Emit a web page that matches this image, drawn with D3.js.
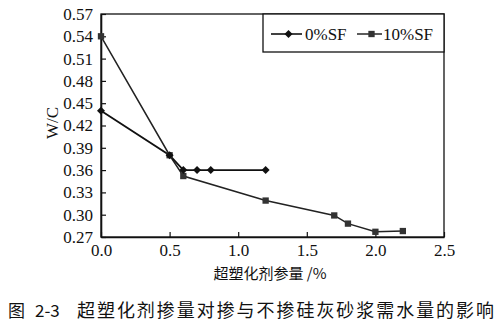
<!DOCTYPE html>
<html><head><meta charset="utf-8">
<script src="https://cdn.jsdelivr.net/npm/d3@7/dist/d3.min.js"></script>
<style>body{margin:0;background:#fff}svg{display:block}</style>
</head><body>
<script>
const xTicks = [0.0, 0.5, 1.0, 1.5, 2.0, 2.5];
const yTicks = [0.27, 0.30, 0.33, 0.36, 0.39, 0.42, 0.45, 0.48, 0.51, 0.54, 0.57];
const sf0X = [0, 0.5, 0.6, 0.7, 0.8, 1.2];
const sf0Y = [0.44, 0.38, 0.36, 0.36, 0.36, 0.36];
const sf10X = [0, 0.5, 0.6, 1.2, 1.7, 1.8, 2.0, 2.2];
const sf10Y = [0.54, 0.38, 0.352, 0.319, 0.299, 0.288, 0.277, 0.278];
const seriesNames = ["0%SF", "10%SF"];
const xTitle = "超塑化剂参量 /%";
const yTitle = "W/C";
const captionFig = "图";
const captionNum = "2-3";
const captionText = "超塑化剂掺量对掺与不掺硅灰砂浆需水量的影响";

const W = 500, H = 326;
const L = 101, R = 444, T = 14, B = 237;
const svg = d3.select("body").append("svg").attr("width", W).attr("height", H);
const x = d3.scaleLinear().domain([0, 2.5]).range([L, R]);
const y = d3.scaleLinear().domain([0.27, 0.57]).range([B, T]);
const serif = "'Liberation Serif','Times New Roman',serif";
const cjk = "'Noto Sans CJK SC',sans-serif";

// frame
svg.append("rect").attr("x", L).attr("y", T).attr("width", R - L).attr("height", B - T)
  .attr("fill", "none").attr("stroke", "#111").attr("stroke-width", 1.3);

// axes
const xAxis = d3.axisBottom(x).tickValues(xTicks).tickSizeInner(-5).tickSizeOuter(0)
  .tickPadding(7).tickFormat(d3.format(".1f"));
const gx = svg.append("g").attr("transform", `translate(0,${B})`).call(xAxis);
gx.select(".domain").attr("stroke", "#111").attr("stroke-width", 1.6);
gx.selectAll(".tick line").attr("stroke", "#111").attr("stroke-width", 1.2);
gx.selectAll("text").attr("font-family", serif).attr("font-size", 17).attr("fill", "#111");

const yAxis = d3.axisLeft(y).tickValues(yTicks).tickSizeInner(-5).tickSizeOuter(0)
  .tickPadding(8).tickFormat(d3.format(".2f"));
const gy = svg.append("g").attr("transform", `translate(${L},0)`).call(yAxis);
gy.select(".domain").attr("stroke", "#111").attr("stroke-width", 1.6);
gy.selectAll(".tick line").attr("stroke", "#111").attr("stroke-width", 1.2);
gy.selectAll("text").attr("font-family", serif).attr("font-size", 17).attr("fill", "#111");

// titles
svg.append("text").attr("transform", "translate(58,123) rotate(-90)")
  .attr("text-anchor", "middle").attr("font-family", serif).attr("font-size", 17)
  .attr("fill", "#111").text(yTitle);
svg.append("text").attr("x", 270).attr("y", 279).attr("text-anchor", "middle")
  .attr("font-family", cjk).attr("font-size", 15).attr("fill", "#111").text(xTitle);
svg.append("text").attr("x", 8).attr("y", 317)
  .attr("font-family", cjk).attr("font-size", 17).attr("fill", "#111").text(captionFig);
svg.append("text").attr("x", 35).attr("y", 317)
  .attr("font-family", cjk).attr("font-size", 17).attr("fill", "#111").text(captionNum);
svg.append("text").attr("x", 77).attr("y", 317).attr("textLength", 417).attr("lengthAdjust", "spacing")
  .attr("font-family", cjk).attr("font-size", 18).attr("fill", "#111").text(captionText);

// series
const line = d3.line().x(d => x(d[0])).y(d => y(d[1]));
const d0 = sf0X.map((v, i) => [v, sf0Y[i]]);
const d10 = sf10X.map((v, i) => [v, sf10Y[i]]);
svg.append("path").datum(d10).attr("d", line).attr("fill", "none").attr("stroke", "#222").attr("stroke-width", 1.5);
svg.append("path").datum(d0).attr("d", line).attr("fill", "none").attr("stroke", "#111").attr("stroke-width", 1.8);
const diamond = d3.symbol().type(d3.symbolSquare).size(32);
const square = d3.symbol().type(d3.symbolSquare).size(40);
svg.selectAll(".sq").data(d10).join("path").attr("class", "sq")
  .attr("transform", d => `translate(${x(d[0])},${y(d[1])})`).attr("d", square).attr("fill", "#333");
svg.selectAll(".dm").data(d0).join("path").attr("class", "dm")
  .attr("transform", d => `translate(${x(d[0])},${y(d[1])}) rotate(45)`).attr("d", diamond).attr("fill", "#111");

// legend
svg.append("rect").attr("x", 263).attr("y", T).attr("width", R - 263).attr("height", 38)
  .attr("fill", "#fff").attr("stroke", "#111").attr("stroke-width", 1.3);
const leg = [{n: seriesNames[0], x1: 271, sym: diamond, c: "#111", tx: 305, rot: 45, len: 31},
             {n: seriesNames[1], x1: 357, sym: square, c: "#333", tx: 383, rot: 0, len: 25}];
leg.forEach(e => {
  svg.append("line").attr("x1", e.x1).attr("x2", e.x1 + e.len).attr("y1", 34).attr("y2", 34)
    .attr("stroke", e.c).attr("stroke-width", 1.6);
  svg.append("path").attr("transform", `translate(${e.x1 + e.len / 2 + 2},34) rotate(${e.rot})`).attr("d", e.sym).attr("fill", e.c);
  svg.append("text").attr("x", e.tx).attr("y", 40).attr("font-family", serif).attr("font-size", 17)
    .attr("fill", "#111").text(e.n);
});
</script>
</body></html>
